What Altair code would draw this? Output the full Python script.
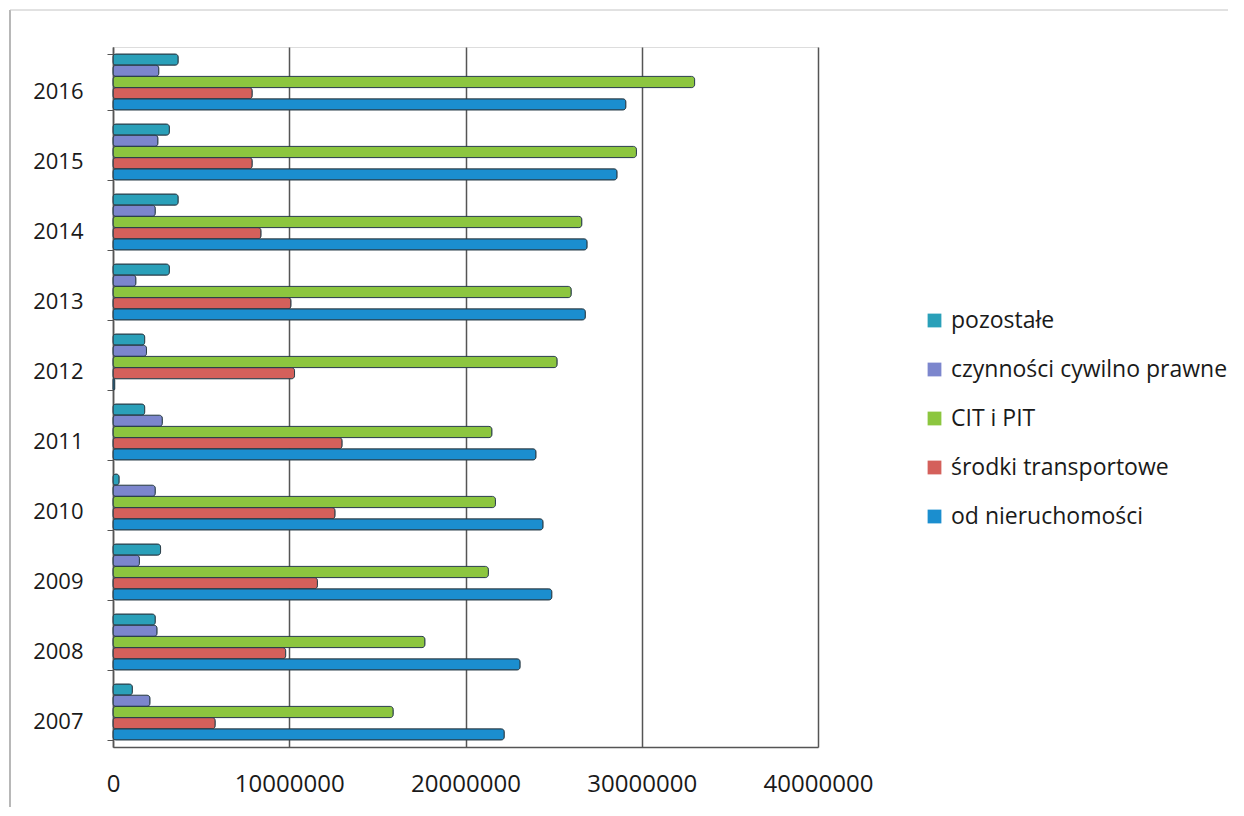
import altair as alt
import pandas as pd

years = ["2007", "2008", "2009", "2010", "2011", "2012", "2013", "2014", "2015", "2016"]
series = ["pozostałe", "czynności cywilno prawne", "CIT i PIT", "środki transportowe", "od nieruchomości"]
pozostale = [1100000, 2400000, 2700000, 350000, 1800000, 1800000, 3200000, 3700000, 3200000, 3700000]
czynnosci = [2100000, 2500000, 1500000, 2400000, 2800000, 1900000, 1300000, 2400000, 2550000, 2600000]
cit_pit = [15900000, 17700000, 21300000, 21700000, 21500000, 25200000, 26000000, 26600000, 29700000, 33000000]
srodki = [5800000, 9800000, 11600000, 12600000, 13000000, 10300000, 10100000, 8400000, 7900000, 7900000]
nieruchomosci = [22200000, 23100000, 24900000, 24400000, 24000000, 100000, 26800000, 26900000, 28600000, 29100000]
colors = ["#2aa0b9", "#7c86cd", "#8cc63f", "#d4605b", "#1b8ecf"]
x_ticks = [0, 10000000, 20000000, 30000000, 40000000]

values = [pozostale, czynnosci, cit_pit, srodki, nieruchomosci]
rows = []
for s, vals in zip(series, values):
    for y, v in zip(years, vals):
        rows.append({"rok": y, "seria": s, "wartosc": v})
df = pd.DataFrame(rows)

FONT = "Open Sans"

bars = alt.Chart(df).mark_bar(
    stroke="#2b3f4a", strokeWidth=1, cornerRadius=3
).encode(
    x=alt.X("wartosc:Q",
            scale=alt.Scale(domain=[0, 40000000], nice=False),
            axis=alt.Axis(values=x_ticks, format="d", title=None, grid=True,
                          gridColor="#555555", gridWidth=1.5, domainColor="#555555",
                          domainWidth=1.5, tickColor="#555555", tickSize=0,
                          labelFontSize=24, labelFont=FONT, labelColor="#1a1a1a",
                          labelPadding=25, labelFlush=False)),
    y=alt.Y("rok:N", sort=list(reversed(years)),
            scale=alt.Scale(paddingInner=0.2, paddingOuter=0.1),
            axis=alt.Axis(title=None, domainColor="#555555", domainWidth=1.5,
                          tickColor="#555555", tickSize=6, tickBand="extent",
                          labelFontSize=22, labelFont=FONT, labelColor="#1a1a1a",
                          labelPadding=24, labelOffset=9)),
    yOffset=alt.YOffset("seria:N", sort=series, scale=alt.Scale(paddingInner=0)),
    color=alt.Color("seria:N", sort=series,
                    scale=alt.Scale(domain=series, range=colors),
                    legend=alt.Legend(title=None, orient="none", legendX=810, legendY=262,
                                      symbolType="square", symbolSize=190,
                                      symbolStrokeWidth=0, labelFontSize=23,
                                      labelFont=FONT, labelColor="#1a1a1a",
                                      rowPadding=25, labelOffset=5, labelLimit=400)),
)

frame = alt.Chart(pd.DataFrame({"a": [0]})).mark_rule(
    color="#888888", strokeWidth=1.2
).encode(x=alt.value(-103), y=alt.value(-37), y2=alt.value(770))

frame_top = alt.Chart(pd.DataFrame({"a": [0]})).mark_rule(
    color="#c4c4c4", strokeWidth=1
).encode(x=alt.value(-103), x2=alt.value(1120), y=alt.value(-37))

chart = alt.layer(frame, frame_top, bars).properties(
    width=705, height=700,
    autosize=alt.AutoSizeParams(type="none"),
    padding={"left": 105, "top": 39, "right": 410, "bottom": 60},
).configure_view(stroke=None).configure(background="white")

chart.save("out.html", embed_options={"renderer": "svg", "actions": False})
